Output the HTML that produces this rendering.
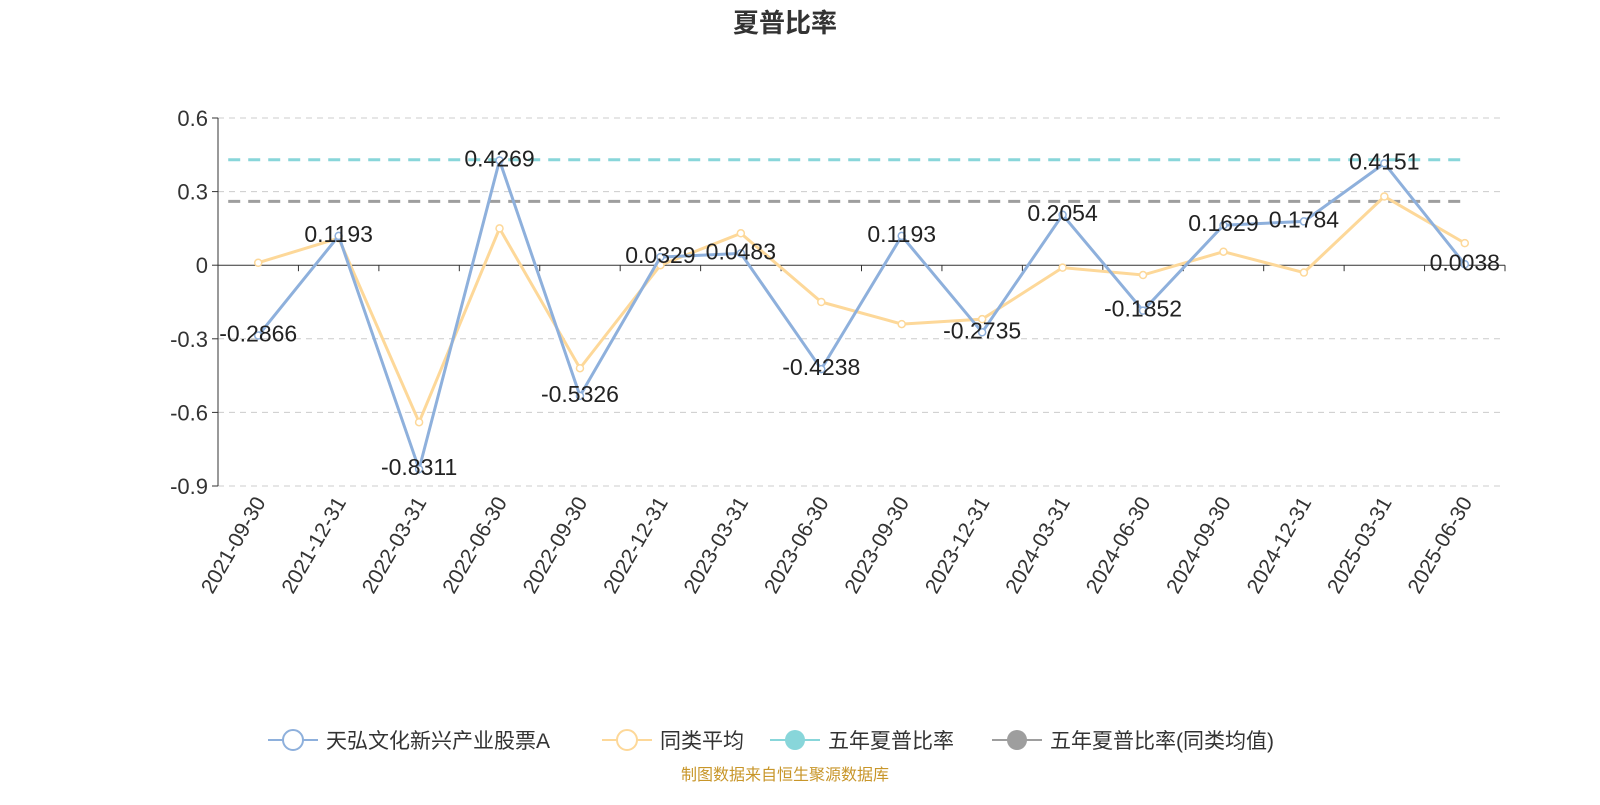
<!DOCTYPE html>
<html><head><meta charset="utf-8"><style>
body{margin:0;background:#fff;}
svg{font-family:"Liberation Sans","Noto Sans CJK SC",sans-serif;}
</style></head><body>
<svg id="c" width="1600" height="800" viewBox="0 0 1600 800">
<text x="785" y="32" text-anchor="middle" font-size="26" font-weight="bold" fill="#333">夏普比率</text>
<g id="grid"></g><g id="axes"></g><g id="series"></g><g id="labels"></g>
<g font-size="21" fill="#333">
 <g><line x1="268" y1="740" x2="318" y2="740" stroke="#8eb0dc" stroke-width="2"/><circle cx="293" cy="740" r="10" fill="#fff" stroke="#8eb0dc" stroke-width="2"/><text x="326" y="748">天弘文化新兴产业股票A</text></g>
 <g><line x1="602" y1="740" x2="652" y2="740" stroke="#fdd899" stroke-width="2"/><circle cx="627" cy="740" r="10" fill="#fff" stroke="#fdd899" stroke-width="2"/><text x="660" y="748">同类平均</text></g>
 <g><line x1="770" y1="740" x2="820" y2="740" stroke="#88d6da" stroke-width="2"/><circle cx="795" cy="740" r="10" fill="#88d6da"/><text x="828" y="748">五年夏普比率</text></g>
 <g><line x1="992" y1="740" x2="1042" y2="740" stroke="#9e9e9e" stroke-width="2"/><circle cx="1017" cy="740" r="10" fill="#9e9e9e"/><text x="1050" y="748">五年夏普比率(同类均值)</text></g>
</g>
<text x="785" y="780" text-anchor="middle" font-size="16" fill="#c8962a">制图数据来自恒生聚源数据库</text>
</svg>
<script>
const categories=["2021-09-30","2021-12-31","2022-03-31","2022-06-30","2022-09-30","2022-12-31","2023-03-31","2023-06-30","2023-09-30","2023-12-31","2024-03-31","2024-06-30","2024-09-30","2024-12-31","2025-03-31","2025-06-30"];
const fundValues=[-0.2866,0.1193,-0.8311,0.4269,-0.5326,0.0329,0.0483,-0.4238,0.1193,-0.2735,0.2054,-0.1852,0.1629,0.1784,0.4151,0.0038];
const avgValues=[0.01,0.11,-0.64,0.15,-0.42,0.0,0.13,-0.15,-0.24,-0.22,-0.01,-0.04,0.055,-0.03,0.28,0.09];
const fiveYear=0.43;
const fiveYearAvg=0.26;
const yTicks=[0.6,0.3,0,-0.3,-0.6,-0.9];
const NS="http://www.w3.org/2000/svg";
const L=218,R=1505,T=118,B=486,yMin=-0.9,yMax=0.6;
const bw=(R-L)/categories.length;
const xs=i=>L+bw*(i+0.5);
const ys=v=>B-(v-yMin)/(yMax-yMin)*(B-T);
function mk(tag,attrs,parent){const e=document.createElementNS(NS,tag);for(const k in attrs)e.setAttribute(k,attrs[k]);parent.appendChild(e);return e;}
const grid=document.getElementById('grid'),axes=document.getElementById('axes'),series=document.getElementById('series'),labels=document.getElementById('labels');
yTicks.forEach(v=>{
 if(v!==0){const g=mk('line',{x1:L,x2:R,y1:ys(v),y2:ys(v),stroke:'#ccc','stroke-dasharray':'6,5'},grid);
 
 }
 const t=mk('text',{x:L-10,y:ys(v)+8,'text-anchor':'end','font-size':22,fill:'#333'},axes);t.textContent=String(v);
 
 
 const tk=mk('line',{x1:L-6,x2:L,y1:ys(v),y2:ys(v),stroke:'#333'},axes);
 
 
});
const ya=mk('line',{x1:L,x2:L,y1:T,y2:B,stroke:'#333'},axes);


const xa=mk('line',{x1:L,x2:R,y1:ys(0),y2:ys(0),stroke:'#333'},axes);


for(let i=0;i<=categories.length;i++){const t=mk('line',{x1:L+bw*i,x2:L+bw*i,y1:ys(0),y2:ys(0)+6,stroke:'#333'},axes);
 
 }
categories.forEach((c,i)=>{const x=xs(i)+8,y=B+16;
 const t=mk('text',{x:x,y:y,'text-anchor':'end','font-size':21,fill:'#333',transform:`rotate(-60 ${x} ${y})`},axes);t.textContent=c;
 
 });
const fy=mk('line',{x1:xs(0)-30,x2:xs(15),y1:ys(fiveYear),y2:ys(fiveYear),stroke:'#88d6da','stroke-width':3,'stroke-dasharray':'12,8'},series);


const fya=mk('line',{x1:xs(0)-30,x2:xs(15),y1:ys(fiveYearAvg),y2:ys(fiveYearAvg),stroke:'#9e9e9e','stroke-width':3,'stroke-dasharray':'12,8'},series);


function line(vals,color,name){
 const p=mk('polyline',{points:vals.map((v,i)=>xs(i)+','+ys(v)).join(' '),fill:'none',stroke:color,'stroke-width':3},series);
 
 
 vals.forEach((v,i)=>{const c=mk('circle',{cx:xs(i),cy:ys(v),r:3.5,fill:'#fff',stroke:color,'stroke-width':1.5},series);
  
  });
}
line(avgValues,'#fdd899','category-average');
line(fundValues,'#8eb0dc','fund');
fundValues.forEach((v,i)=>{const t=mk('text',{x:xs(i),y:ys(v)+6,'text-anchor':'middle','font-size':23,fill:'#222'},labels);t.textContent=v.toFixed(4);
 
 });
</script>
</body></html>
